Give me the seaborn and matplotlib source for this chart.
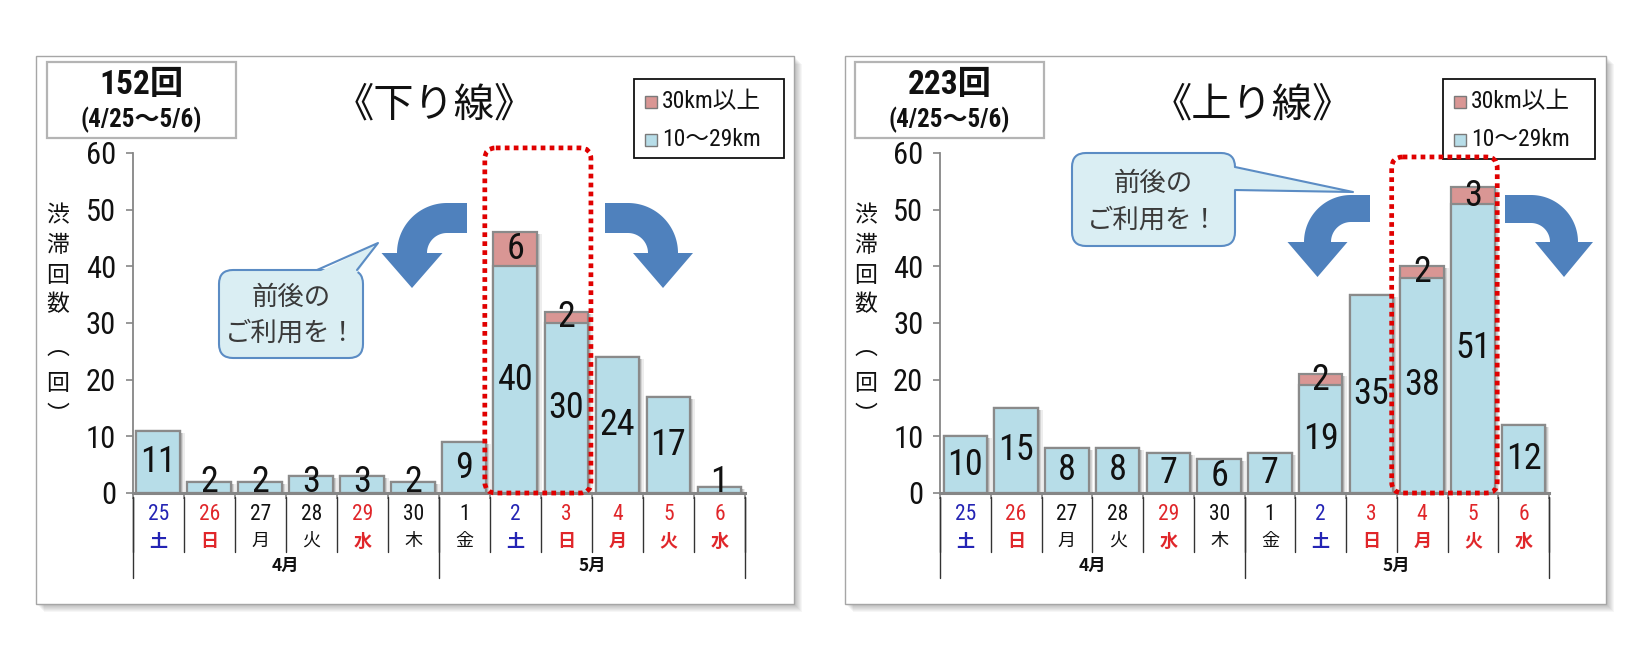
import numpy as np
import pandas as pd
import matplotlib
matplotlib.use("Agg")
import matplotlib.pyplot as plt
import seaborn as sns
import matplotlib.font_manager as fm
from matplotlib.patches import Rectangle, FancyBboxPatch, Polygon
from matplotlib.transforms import blended_transform_factory

# ---------------- data ----------------
dates = ["4/25", "4/26", "4/27", "4/28", "4/29", "4/30",
         "5/1", "5/2", "5/3", "5/4", "5/5", "5/6"]
days = ["25", "26", "27", "28", "29", "30", "1", "2", "3", "4", "5", "6"]
weekdays = ["土", "日", "月", "火", "水", "木", "金", "土", "日", "月", "火", "水"]
day_kind = ["sat", "hol", "wd", "wd", "hol", "wd", "wd", "sat", "hol", "hol", "hol", "hol"]
months = ["4月", "5月"]
month_counts = [6, 6]

down_10_29 = [11, 2, 2, 3, 3, 2, 9, 40, 30, 24, 17, 1]
down_30 = [0, 0, 0, 0, 0, 0, 0, 6, 2, 0, 0, 0]
up_10_29 = [10, 15, 8, 8, 7, 6, 7, 19, 35, 38, 51, 12]
up_30 = [0, 0, 0, 0, 0, 0, 0, 2, 0, 2, 3, 0]

titles = ["《下り線》", "《上り線》"]
period = "(4/25～5/6)"
legend_labels = ["30km以上", "10～29km"]
yticks = [0, 10, 20, 30, 40, 50, 60]
ylabel_chars = ["渋", "滞", "回", "数", "︵", "回", "︶"]
callout_lines = ["前後の", "ご利用を！"]
highlight = [(7, 8), (9, 10)]

# ---------------- style ----------------
W, H = 1650, 669
sns.set_theme(style="white")
ttf = fm.fontManager.ttflist
names = {f.name for f in ttf}
NUM_STRETCH = "normal"
if "Liberation Sans Narrow" in names:
    NUM = "Liberation Sans Narrow"
elif "Roboto Condensed" in names:
    NUM = "Roboto Condensed"
elif any(f.name == "DejaVu Sans" and str(f.stretch) in ("condensed", "semi-condensed") for f in ttf):
    NUM = "DejaVu Sans"; NUM_STRETCH = "condensed"
elif "Liberation Sans" in names:
    NUM = "Liberation Sans"
else:
    NUM = "DejaVu Sans"
JP = "Noto Sans CJK JP"
plt.rcParams["font.family"] = [JP, "DejaVu Sans"]
NUMF = [NUM, JP]

BLUE = "#b7dde8"
RED = "#d99694"
EDGE = "#8a8a8a"
AXC = "#868686"
ARROW = "#4f81bd"
CALL_FILL = "#daeef3"
CALL_EDGE = "#5b8cc4"
KIND_COL = {"sat": "#2424b4", "hol": "#e0262a", "wd": "#111111"}

fig = plt.figure(figsize=(W / 100, H / 100), dpi=100)
fig.patch.set_facecolor("white")

bg = fig.add_axes([0, 0, 1, 1], zorder=0)
bg.set_xlim(0, W); bg.set_ylim(H, 0); bg.axis("off")
ov = fig.add_axes([0, 0, 1, 1], zorder=5)
ov.set_xlim(0, W); ov.set_ylim(H, 0); ov.axis("off")
ov.patch.set_alpha(0)

panels = [
    dict(frame=(36, 56, 758, 548), ax_x=(132.8, 745.0), s10=down_10_29, s30=down_30,
         title_x=434, box=(47, 62), legend=(634, 79, 150, 79), ylab_x=58,
         box_top=60.9,
         callout=dict(rect=(219, 270, 144, 88), ptr=[(317, 270), (378, 243), (357, 270)],
                      text_xy=(291, 297, 333)),
         arrows=[(467, 447, 253, 50, 20, 30.5, 288, -1), (605, 628, 253, 50, 20, 30, 288, 1)]),
    dict(frame=(845, 56, 761, 548), ax_x=(940.0, 1549.0), s10=up_10_29, s30=up_30,
         title_x=1252, box=(855, 62), legend=(1443, 79, 152, 80), ylab_x=866,
         box_top=59.3,
         callout=dict(rect=(1072, 153, 163, 93), ptr=[(1235, 167), (1353, 192), (1235, 190)],
                      text_xy=(1153, 183, 220)),
         arrows=[(1370, 1351, 242, 47, 20, 30, 277, -1), (1505, 1531, 242, 47, 19, 29, 277, 1)]),
]

Y0, Y60 = 493.0, 153.0


def arrow_poly(xe, cx, cy, R, r, hh, tipy, d):
    phi = np.linspace(0, np.pi / 2, 40)
    sx = cx + d * (R + r) / 2
    pts = [(xe, cy - R)]
    pts += list(zip(cx + d * R * np.sin(phi), cy - R * np.cos(phi)))
    pts += [(sx + d * hh, cy), (sx, tipy), (sx - d * hh, cy)]
    pts += list(zip(cx + d * r * np.sin(phi[::-1]), cy - r * np.cos(phi[::-1])))
    pts += [(xe, cy - r)]
    return pts


def num_text(target, x, y, s, **kw):
    return target.text(x, y, s, family=NUMF, fontstretch=NUM_STRETCH, **kw)


for p_i, P in enumerate(panels):
    fx0, fy0, fw, fh = P["frame"]
    # frame shadow
    for k in range(8, 0, -1):
        bg.add_patch(Rectangle((fx0 + k, fy0 + k), fw, fh, facecolor="#000000",
                               alpha=0.035, edgecolor="none"))
    bg.add_patch(Rectangle((fx0, fy0), fw, fh, facecolor="white", edgecolor="#a6a6a6", lw=1.0))

    # bar axes
    x0, x1 = P["ax_x"]
    ax = fig.add_axes([x0 / W, 1 - Y0 / H, (x1 - x0) / W, (Y0 - Y60) / H], zorder=2)
    ax.patch.set_alpha(0)
    s10 = np.array(P["s10"]); s30 = np.array(P["s30"])
    df = pd.DataFrame({"date": dates, "total": s10 + s30, "mid": s10})
    idx = np.arange(len(dates))
    for off, a in [(0.09, 0.07), (0.06, 0.10), (0.035, 0.12)]:
        ax.bar(idx + off, np.clip(df["total"] - 0.35, 0, None), width=0.86,
               color="#000000", alpha=a, edgecolor="none", zorder=1)
    sns.barplot(data=df, x="date", y="total", order=dates, color=RED, saturation=1,
                edgecolor=EDGE, linewidth=1.6, width=0.86, ax=ax, zorder=3)
    sns.barplot(data=df, x="date", y="mid", order=dates, color=BLUE, saturation=1,
                edgecolor=EDGE, linewidth=1.6, width=0.86, ax=ax, zorder=4)
    ax.set_xlim(-0.5, len(dates) - 0.5)
    ax.set_ylim(0, 60)
    ax.set_xlabel(""); ax.set_ylabel("")
    ax.set_yticks(yticks)
    ax.set_yticklabels([str(t) for t in yticks], fontsize=22, family=NUMF,
                       fontstretch=NUM_STRETCH, color="#111111")
    ax.set_xticks(np.arange(-0.5, len(dates), 1))
    ax.set_xticklabels([])
    ax.tick_params(axis="y", length=5, width=1.2, color=AXC, pad=7, left=True)
    ax.tick_params(axis="x", length=4, width=1.2, color=AXC, bottom=True)
    for s in ["top", "right"]:
        ax.spines[s].set_visible(False)
    ax.spines["left"].set_color(AXC); ax.spines["left"].set_linewidth(1.3)
    ax.spines["bottom"].set_color(AXC); ax.spines["bottom"].set_linewidth(2.2)
    ax.spines["left"].set_zorder(6); ax.spines["bottom"].set_zorder(6)

    # value labels (small bars: label lifted so it clears the axis labels)
    for i in idx:
        num_text(ax, i, max(s10[i] / 2, 1.9), str(s10[i]), ha="center", va="center",
                 fontsize=26, color="#111111", zorder=7)
        if s30[i] > 0:
            num_text(ax, i, s10[i] + s30[i] / 2, str(s30[i]), ha="center", va="center",
                     fontsize=26, color="#111111", zorder=7)

    # category labels
    tr = blended_transform_factory(ax.transData, ov.transData)
    for i in idx:
        col = KIND_COL[day_kind[i]]
        num_text(ov, i, 514, days[i], transform=tr, ha="center", va="center", fontsize=15.5,
                 color=col)
        ov.text(i, 541, weekdays[i], transform=tr, ha="center", va="center", fontsize=13,
                color=col, fontweight="bold" if day_kind[i] != "wd" else "normal")
    for b in np.arange(-0.5, len(dates), 1):
        ov.plot([b, b], [497, 552], transform=tr, color="#333333", lw=1.0)
    start = 0
    bounds = [-0.5]
    for m, c in zip(months, month_counts):
        ov.text(start + (c - 1) / 2, 566, m, transform=tr, ha="center", va="center",
                fontsize=12.5, fontweight="bold", color="#111111")
        start += c
        bounds.append(start - 0.5)
    for b in bounds:
        ov.plot([b, b], [497, 578], transform=tr, color="#333333", lw=1.0)

    # y label
    ys = [216, 245, 276, 305, 347, 384, 416]
    for ch, yy in zip(ylabel_chars, ys):
        ov.text(P["ylab_x"], yy, ch, ha="center", va="center", fontsize=16.5, color="#111111")

    # title
    ov.text(P["title_x"], 105, titles[p_i], ha="center", va="center", fontsize=29,
            color="#111111")

    # summary box
    bx, by = P["box"]
    ov.add_patch(Rectangle((bx, by), 189, 76, facecolor="white", edgecolor="#b4b4b4", lw=1.6))
    total = int(s10.sum() + s30.sum())
    num_text(ov, bx + 94.5, 85, f"{total}回", ha="center", va="center", fontsize=24,
             fontweight="bold", color="#111111")
    num_text(ov, bx + 94.5, 120, period, ha="center", va="center", fontsize=18,
             fontweight="bold", color="#111111")

    # legend
    lx, ly, lw_, lh = P["legend"]
    ov.add_patch(Rectangle((lx, ly), lw_, lh, facecolor="white", edgecolor="#111111", lw=1.3))
    for k, (lab, colr) in enumerate(zip(legend_labels, [RED, BLUE])):
        yy = ly + 23 + k * 38
        ov.add_patch(Rectangle((lx + 11, yy - 6), 12, 12, facecolor=colr, edgecolor="#7a7a7a", lw=1.0))
        num_text(ov, lx + 28, yy, lab, ha="left", va="center", fontsize=17, color="#111111")

    # red dotted highlight box
    i0, i1 = highlight[p_i]
    (dx0, dy0) = ax.transData.transform((i0 - 0.6, P["box_top"]))
    (dx1, dy1) = ax.transData.transform((i1 + 0.48, 0))
    ov.add_patch(FancyBboxPatch((dx0, H - dy0), dx1 - dx0, (H - dy1) - (H - dy0),
                                boxstyle="round,pad=0,rounding_size=11",
                                facecolor="none", edgecolor="#e00000", lw=3.4,
                                linestyle=(0, (1, 0.9)), zorder=8))

    # arrows
    for a in P["arrows"]:
        ov.add_patch(Polygon(arrow_poly(*a), closed=True, facecolor=ARROW, edgecolor="none", zorder=6))

    # callout
    C = P["callout"]
    rx, ry, rw, rh = C["rect"]
    ov.add_patch(FancyBboxPatch((rx, ry), rw, rh, boxstyle="round,pad=0,rounding_size=14",
                                facecolor=CALL_FILL, edgecolor=CALL_EDGE, lw=1.5, zorder=6))
    p0, tip, p1 = C["ptr"]
    if p_i == 0:
        fillpts = [(p0[0], p0[1] + 3), tip, (p1[0], p1[1] + 3)]
    else:
        fillpts = [(p0[0] - 3, p0[1]), tip, (p1[0] - 3, p1[1])]
    ov.add_patch(Polygon(fillpts, closed=True, facecolor=CALL_FILL, edgecolor="none", zorder=7))
    ov.plot([p0[0], tip[0], p1[0]], [p0[1], tip[1], p1[1]], color=CALL_EDGE, lw=1.5, zorder=7)
    tx, ty1, ty2 = C["text_xy"]
    ov.text(tx, ty1, callout_lines[0], ha="center", va="center", fontsize=19, color="#3a3a3a", zorder=8)
    ov.text(tx, ty2, callout_lines[1], ha="center", va="center", fontsize=19, color="#3a3a3a", zorder=8)

fig.savefig("out.png", dpi=100)
